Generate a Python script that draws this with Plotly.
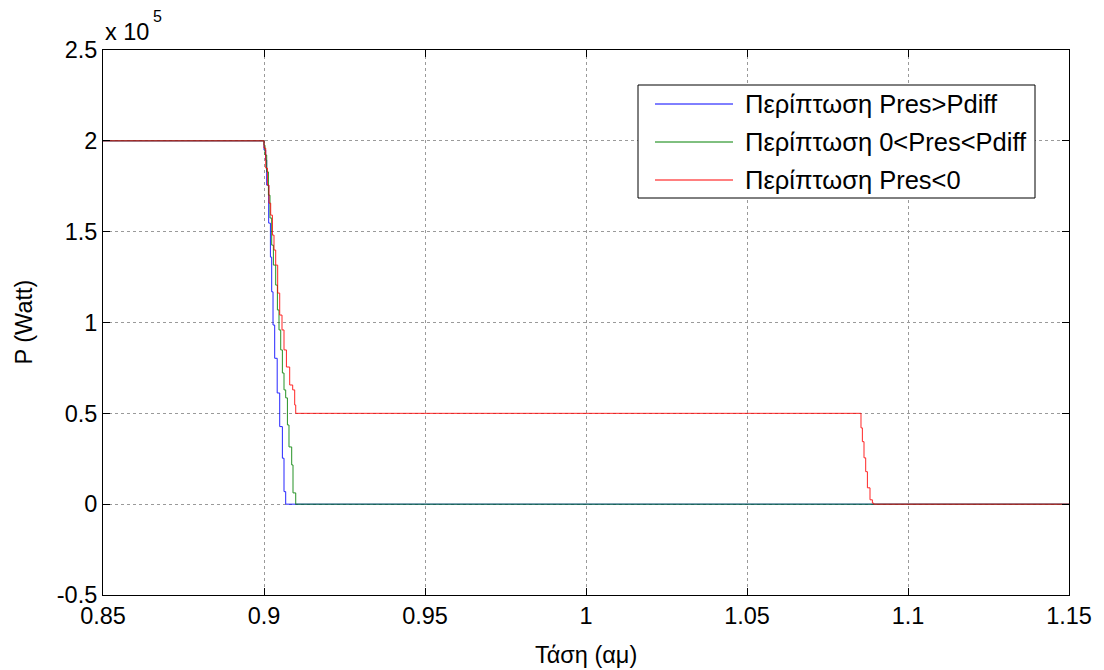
import plotly.graph_objects as go

# ---- data (P in Watt, x = voltage in p.u.) ----
blue_x = [0.85, 0.9, 0.90053, 0.90084, 0.90146, 0.90199, 0.90239, 0.90280, 0.90332,
          0.90410, 0.90488, 0.90571, 0.90621, 0.90674, 1.15]
blue_y = [2.0, 1.949, 1.894, 1.756, 1.547, 1.360, 1.169, 0.986, 0.803,
          0.612, 0.427, 0.253, 0.069, 0.0, 0.0]

green_x = [0.85, 0.9, 0.90031, 0.90084, 0.90137, 0.90186, 0.90239, 0.90292, 0.90363,
           0.90416, 0.90466, 0.90519, 0.90571, 0.90621, 0.90674, 0.90727, 0.90776,
           0.90860, 0.90901, 0.90985, 1.15]
green_y = [2.0, 1.976, 1.922, 1.829, 1.701, 1.575, 1.426, 1.316, 1.206,
           1.069, 0.959, 0.849, 0.722, 0.629, 0.585, 0.436, 0.315,
           0.216, 0.062, 0.0, 0.0]

red_x = [0.85, 0.9, 0.90053, 0.90106, 0.90155, 0.90208, 0.90261, 0.90311, 0.90363,
         0.90425, 0.90488, 0.90559, 0.90621, 0.90696, 0.90798, 0.90891, 0.90953,
         0.90985, 1.0850, 1.08540, 1.08583, 1.08634, 1.08686, 1.08739, 1.08820,
         1.08894, 1.08935, 1.15]
red_y = [2.0, 1.960, 1.850, 1.756, 1.657, 1.591, 1.481, 1.399, 1.316,
         1.162, 1.041, 0.959, 0.849, 0.755, 0.656, 0.629, 0.546,
         0.5, 0.5, 0.42, 0.344, 0.255, 0.179, 0.090, 0.024,
         0.006, 0.0, 0.0]

SCALE = 1e5
series_names = ["Περίπτωση Pres>Pdiff", "Περίπτωση 0<Pres<Pdiff", "Περίπτωση Pres<0"]
series_colors = ["#0000ff", "#008000", "#ff0000"]

x_ticks = [0.85, 0.9, 0.95, 1.0, 1.05, 1.1, 1.15]
x_ticktext = ["0.85", "0.9", "0.95", "1", "1.05", "1.1", "1.15"]
y_ticks_units = [-0.5, 0, 0.5, 1, 1.5, 2, 2.5]
y_ticktext = ["-0.5", "0", "0.5", "1", "1.5", "2", "2.5"]
x_title = "Τάση (αμ)"
y_title = "P (Watt)"

FONT = "Liberation Sans, Arial, sans-serif"
FS = 23.5
FS_LEG = 25.5

# plot area in pixels
L, R, T, B = 103, 1069, 50, 595
PW, PH = R - L, B - T

fig = go.Figure()
for xs, ys, name, col in zip([blue_x, green_x, red_x], [blue_y, green_y, red_y],
                             series_names, series_colors):
    fig.add_trace(go.Scatter(
        x=xs, y=[v * SCALE for v in ys], mode="lines", name=name,
        line=dict(color=col, width=1, shape="hv"), opacity=0.85, showlegend=False))

axis_common = dict(
    showline=True, linecolor="black", linewidth=1, mirror="ticks",
    ticks="inside", ticklen=7, tickcolor="black", tickwidth=1,
    showgrid=True, gridcolor="#9a9a9a", gridwidth=1, griddash="dot",
    zeroline=False, automargin=False,
    tickfont=dict(family=FONT, size=FS, color="black"),
)

fig.update_xaxes(range=[0.85, 1.15], tickvals=x_ticks, ticktext=x_ticktext, **axis_common)
fig.update_yaxes(range=[-0.5 * SCALE, 2.5 * SCALE],
                 tickvals=[v * SCALE for v in y_ticks_units], ticktext=y_ticktext,
                 **axis_common)

# axis titles as annotations (exact placement)
fig.add_annotation(xref="paper", yref="paper", x=0.5, y=(B - 655) / PH,
                   xanchor="center", yanchor="middle", showarrow=False, text=x_title,
                   font=dict(family=FONT, size=FS, color="black"))
fig.add_annotation(xref="paper", yref="paper", x=(23 - L) / PW, y=0.5,
                   xanchor="center", yanchor="middle", showarrow=False, text=y_title,
                   textangle=-90, font=dict(family=FONT, size=FS, color="black"))

# exponent label "x 10^5"
fig.add_annotation(xref="paper", yref="paper", x=0, y=1, xanchor="left", yanchor="bottom",
                   yshift=3, showarrow=False, text="x 10",
                   font=dict(family=FONT, size=FS, color="black"))
fig.add_annotation(xref="paper", yref="paper", x=(151 - L) / PW, y=1,
                   xanchor="left", yanchor="bottom",
                   yshift=23, showarrow=False, text="5",
                   font=dict(family=FONT, size=16, color="black"))

# manual legend box (MATLAB style)
lx0, lx1 = (638 - L) / PW, (1035 - L) / PW
ly_top, ly_bot = (B - 85) / PH, (B - 198) / PH
fig.add_shape(type="rect", xref="paper", yref="paper", x0=lx0, x1=lx1, y0=ly_bot, y1=ly_top,
              line=dict(color="black", width=1), fillcolor="white", layer="above")
row_px = [104, 142, 180]
for rp, name, col in zip(row_px, series_names, series_colors):
    yy = (B - rp) / PH
    fig.add_shape(type="line", xref="paper", yref="paper",
                  x0=(655 - L) / PW, x1=(733 - L) / PW, y0=yy, y1=yy,
                  line=dict(color=col, width=1), layer="above")
    fig.add_annotation(xref="paper", yref="paper", x=(743 - L) / PW, y=yy,
                       xanchor="left", yanchor="middle", showarrow=False, text=name,
                       font=dict(family=FONT, size=FS_LEG, color="black"))

fig.update_layout(
    width=1104, height=670,
    margin=dict(l=L, r=1104 - R, t=T, b=670 - B),
    paper_bgcolor="white", plot_bgcolor="white",
    font=dict(family=FONT, size=FS, color="black"),
)

fig.write_html("out.html", config={"displayModeBar": False},
               post_script="document.body.style.margin='0px';")
